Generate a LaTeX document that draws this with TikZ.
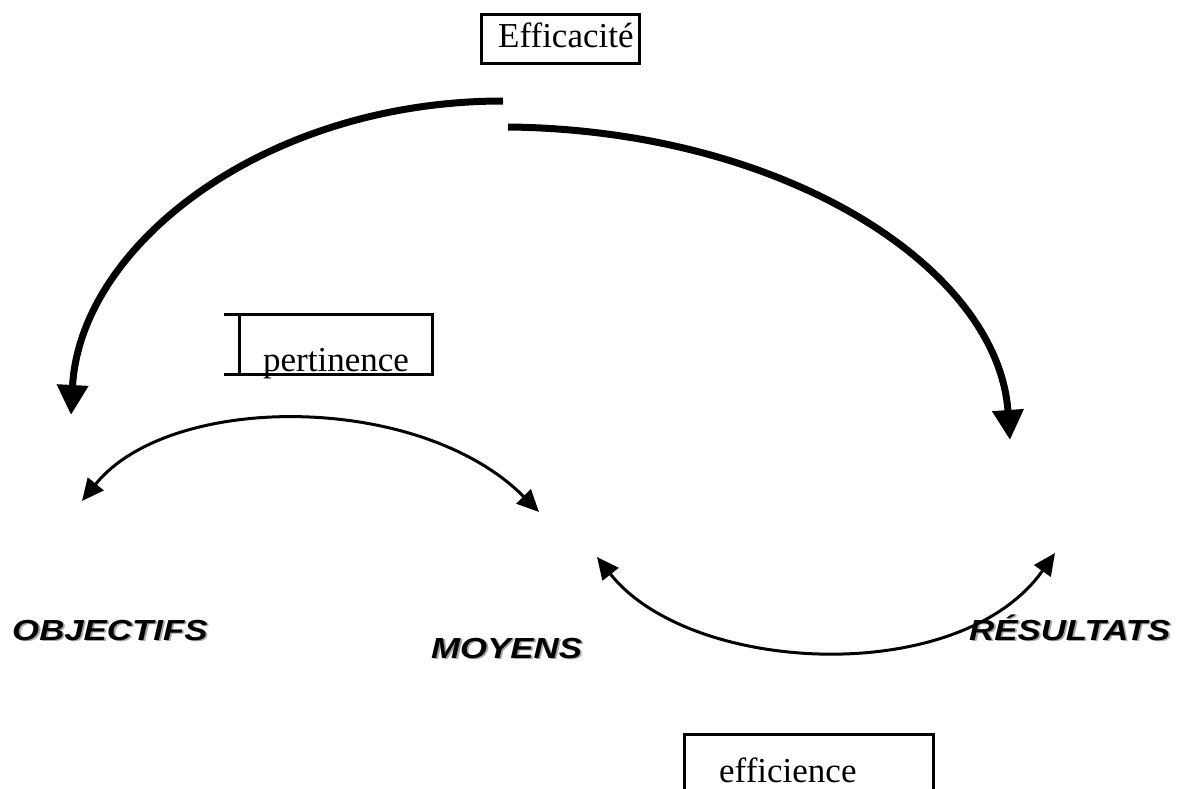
\documentclass[tikz,border=0pt]{standalone}
\usepackage{fontspec}
\usepackage{graphicx}
\setmainfont{Liberation Serif}
\newfontfamily\labfont{Liberation Sans}
\usetikzlibrary{arrows.meta}
\newcommand\shlabel[1]{\scalebox{1.2}[1]{\labfont\bfseries\itshape\rlap{\hspace{1.5pt}\raisebox{-1.5pt}{\color{black!35}#1}}#1}}
\tikzset{
  boxline/.style={line width=3pt},
  boxtext/.style={anchor=base west, inner sep=0pt, font=\fontsize{35}{42}\selectfont},
  lab/.style={anchor=base west, inner sep=0pt, font=\fontsize{29}{35}\selectfont},
  thickarr/.style={line width=7pt, -{Triangle[length=30pt,width=30pt]}},
  thinarr/.style={line width=3pt, {Triangle[length=22pt,width=20pt]}-{Triangle[length=22pt,width=20pt]}},
}
\begin{document}
\begin{tikzpicture}[x=1pt,y=-1pt]
\useasboundingbox (0,0) rectangle (1187,789);
\clip (0,0) rectangle (1187,789);
% Efficacite box
\node[boxline, draw, inner sep=0pt, minimum width=158pt, minimum height=49pt, anchor=north west] (effbox) at (480,13) {};
\node[boxtext] (eff) at (498,48) {Efficacité};
% pertinence box
\coordinate (pbTL) at (224,314);
\coordinate (pbTR) at (432,314);
\coordinate (pbBR) at (432,374);
\coordinate (pbBL) at (224,374);
\draw[boxline] (pbTL) -- (pbTR) -- (pbBR) -- (pbBL);
\draw[boxline] (239,314) -- (239,374);
\node[boxtext] (pert) at (263,371) {pertinence};
% efficience box
\coordinate (ebL) at (684,795);
\coordinate (ebTL) at (684,734);
\coordinate (ebTR) at (933,734);
\coordinate (ebR) at (933,795);
\draw[boxline] (ebL) -- (ebTL) -- (ebTR) -- (ebR);
\node[boxtext] (effic) at (719,782) {efficience};
% labels
\node[lab] (obj) at (12,640) {\shlabel{OBJECTIFS}};
\node[lab] (moy) at (431,658) {\shlabel{MOYENS}};
\node[lab] (res) at (969,640) {\shlabel{RÉSULTATS}};
% thick arrows
\coordinate (effL) at (503,101);
\coordinate (objT) at (71,415);
\coordinate (effR) at (508,127);
\coordinate (resT) at (1010,440);
\draw[thickarr] (effL) .. controls (265,101) and (80,245) .. (objT);
\draw[thickarr] (effR) .. controls (785,130) and (998,268) .. (resT);
% thin double arrows
\coordinate (pA) at (82,501);
\coordinate (pB) at (539,512);
\coordinate (eA) at (597,557);
\coordinate (eB) at (1055,553);
\draw[thinarr] (pA) .. controls (170,392) and (420,392) .. (pB);
\draw[thinarr] (eA) .. controls (690,675) and (960,688) .. (eB);
\end{tikzpicture}
\end{document}
